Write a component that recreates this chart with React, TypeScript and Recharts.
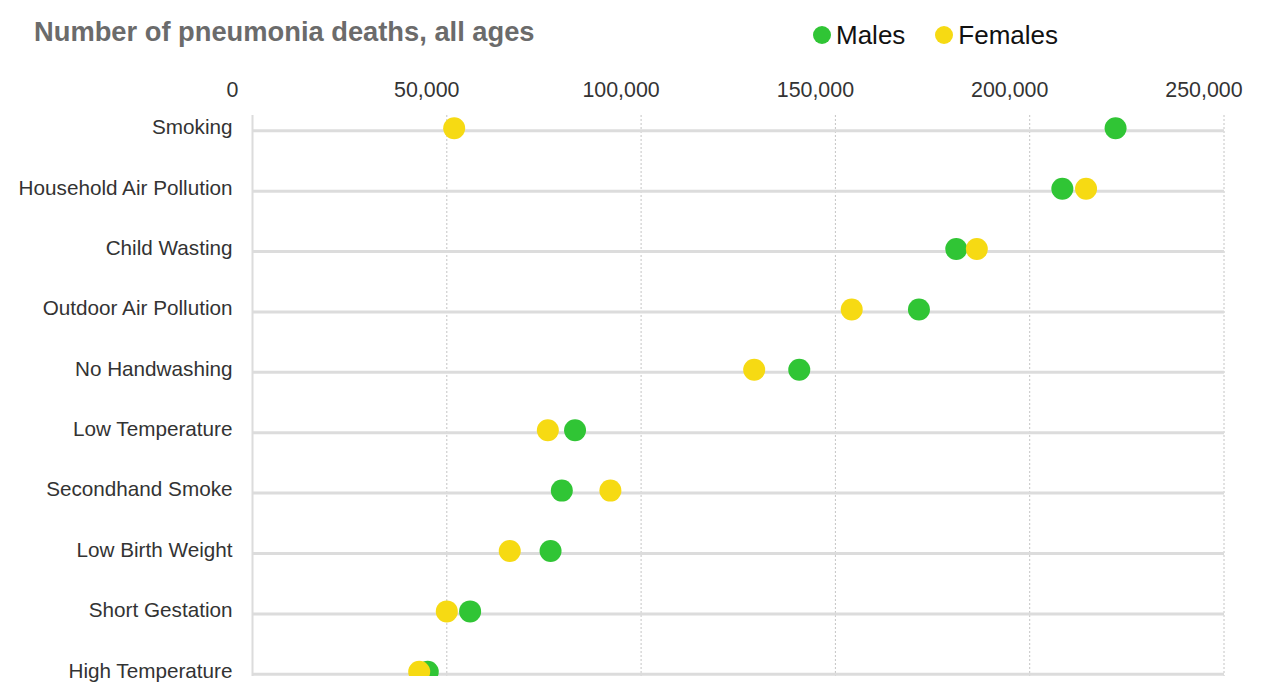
import { CartesianGrid, ReferenceLine, Scatter, ScatterChart, XAxis, YAxis } from 'recharts';

const CAUSES = [
  'Smoking',
  'Household Air Pollution',
  'Child Wasting',
  'Outdoor Air Pollution',
  'No Handwashing',
  'Low Temperature',
  'Secondhand Smoke',
  'Low Birth Weight',
  'Short Gestation',
  'High Temperature',
];

const MALES = [222100, 208400, 181100, 171500, 140700, 83000, 79600, 76700, 56000, 45100];
const FEMALES = [51900, 214500, 186400, 154200, 129100, 76000, 92100, 66200, 50000, 42900];

const X_TICKS = [0, 50000, 100000, 150000, 200000, 250000];

const SERIES = [
  { name: 'Males', values: MALES, color: '#30c535' },
  { name: 'Females', values: FEMALES, color: '#f6da13' },
];

const FONT = '"Liberation Sans", Arial, Helvetica, sans-serif';

const fmt = (v: number) => String(v).replace(/\B(?=(\d{3})+(?!\d))/g, ',');

function Dot(props: { cx?: number; cy?: number; fill?: string }) {
  if (props.cx == null || props.cy == null) return null;
  return <circle cx={props.cx} cy={props.cy} r={11} fill={props.fill} />;
}

// row rule sits a little under the dot centres, like the original
function RowLine(props: any) {
  const { x1 = 0, x2 = 0, y1 = 0 } = props;
  return <line x1={x1} x2={x2} y1={y1 + 2.5} y2={y1 + 2.5} stroke="#dcdcdc" strokeWidth={3} />;
}

export default function App() {
  return (
    <div style={{ position: 'absolute', left: 0, top: 0, width: 1271, height: 697, background: '#fff', fontFamily: FONT }}>
      <div
        style={{
          position: 'absolute',
          left: 34,
          top: 18,
          fontSize: 27.3,
          lineHeight: '27px',
          fontWeight: 700,
          color: '#6b6b6b',
          whiteSpace: 'nowrap',
        }}
      >
        Number of pneumonia deaths, all ages
      </div>
      <div style={{ position: 'absolute', left: 813, top: 20, display: 'flex', alignItems: 'center', fontSize: 26, lineHeight: '30px', color: '#111' }}>
        {SERIES.map((s) => (
          <span key={s.name} style={{ display: 'flex', alignItems: 'center', marginRight: 30 }}>
            <span style={{ width: 18, height: 18, borderRadius: 9, background: s.color, marginRight: 5 }} />
            {s.name}
          </span>
        ))}
      </div>
      <ScatterChart width={1271} height={697} margin={{ top: 0, right: 47, left: 0, bottom: 21 }}>
        <CartesianGrid horizontal={false} stroke="#c4c4c4" strokeDasharray="2 2" strokeWidth={1} />
        {CAUSES.map((c, i) => (
          <ReferenceLine key={c} y={i} shape={RowLine} ifOverflow="visible" />
        ))}
        <XAxis
          type="number"
          dataKey="deaths"
          orientation="top"
          height={115}
          domain={[0, 250000]}
          ticks={X_TICKS}
          allowDataOverflow
          tickFormatter={fmt}
          axisLine={false}
          tickLine={false}
          tickSize={6}
          tickMargin={12}
          tick={{ dx: -20, fontSize: 21.4, fill: '#333', fontFamily: FONT }}
          interval={0}
        />
        <YAxis
          type="number"
          dataKey="row"
          width={252.5}
          reversed
          domain={[-0.22, 9.07]}
          allowDataOverflow
          ticks={CAUSES.map((_, i) => i)}
          tickFormatter={(i: number) => CAUSES[i]}
          interval={0}
          axisLine={{ stroke: '#dcdcdc', strokeWidth: 2 }}
          tickLine={false}
          tickSize={6}
          tickMargin={14}
          tick={{ dy: -1.5, fontSize: 20.7, fill: '#333', fontFamily: FONT }}
        />
        {SERIES.map((s) => (
          <Scatter
            key={s.name}
            name={s.name}
            data={CAUSES.map((c, i) => ({ cause: c, row: i, deaths: s.values[i] }))}
            fill={s.color}
            shape={<Dot />}
            isAnimationActive={false}
          />
        ))}
      </ScatterChart>
    </div>
  );
}
